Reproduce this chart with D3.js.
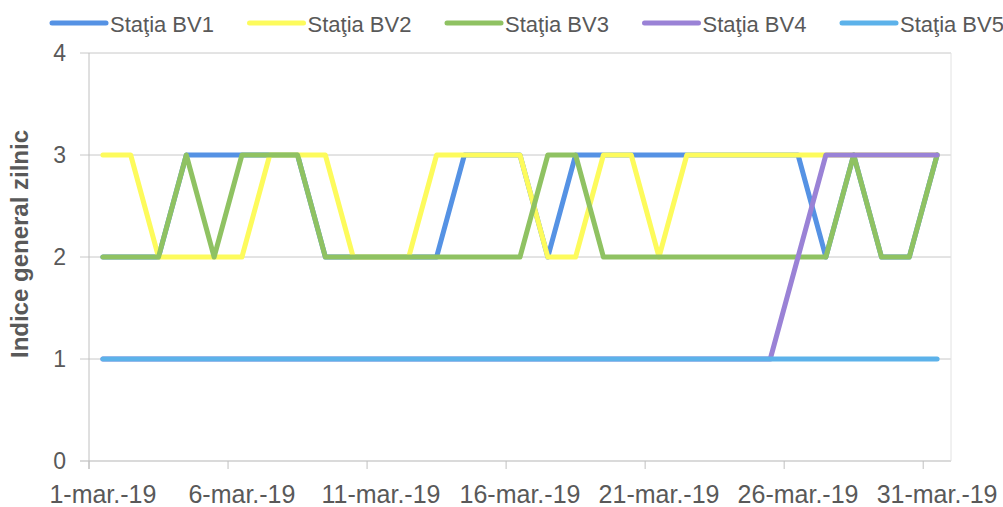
<!DOCTYPE html>
<html>
<head>
<meta charset="utf-8">
<script src="https://cdn.jsdelivr.net/npm/d3@7"></script>
<style>
  body { margin: 0; background: #fff; }
  text { font-family: 'Liberation Sans', Arial, sans-serif; fill: #595959; }
</style>
</head>
<body>
<svg width="1003" height="507"></svg>
<script>
/* global d3 */
var svg = d3.select('svg')

// days of March 2019
var days = d3.range(1, 32)
var seriesNames = ['Staţia BV1', 'Staţia BV2', 'Staţia BV3', 'Staţia BV4', 'Staţia BV5']
var seriesColors = ['#5592e4', '#fdfb5c', '#8fc262', '#9a82d6', '#5cb2ea']

var bv1 = [2, 2, 2, 3, 3, 3, 3, 3, 2, 2, 2, 2, 2, 3, 3, 3, 2, 3, 3, 3, 3, 3, 3, 3, 3, 3, 2, 3, 2, 2, 3]
var bv2 = [3, 3, 2, 2, 2, 2, 3, 3, 3, 2, 2, 2, 3, 3, 3, 3, 2, 2, 3, 3, 2, 3, 3, 3, 3, 3, 3, 3, 3, 3, 3]
var bv3 = [2, 2, 2, 3, 2, 3, 3, 3, 2, 2, 2, 2, 2, 2, 2, 2, 3, 3, 2, 2, 2, 2, 2, 2, 2, 2, 2, 3, 2, 2, 3]
var bv4 = [1, 1, 1, 1, 1, 1, 1, 1, 1, 1, 1, 1, 1, 1, 1, 1, 1, 1, 1, 1, 1, 1, 1, 1, 1, 2, 3, 3, 3, 3, 3]
var bv5 = [1, 1, 1, 1, 1, 1, 1, 1, 1, 1, 1, 1, 1, 1, 1, 1, 1, 1, 1, 1, 1, 1, 1, 1, 1, 1, 1, 1, 1, 1, 1]
var allSeries = [bv1, bv2, bv3, bv4, bv5]

var yTicks = [0, 1, 2, 3, 4]
var xTickDays = [1, 6, 11, 16, 21, 26, 31]
var xTickLabels = ['1-mar.-19', '6-mar.-19', '11-mar.-19', '16-mar.-19', '21-mar.-19', '26-mar.-19', '31-mar.-19']

var plotLeft = 89
var plotRight = 951
var plotTop = 53
var plotBottom = 461

var x = d3.scaleTime()
  .domain([new Date(2019, 2, 1), new Date(2019, 3, 1)])
  .range([plotLeft, plotRight])
var y = d3.scaleLinear().domain([0, 4]).range([plotBottom, plotTop])

// point sits in the middle of its day
function dayX (d) { return x(new Date(2019, 2, d, 12)) }

// gridlines
svg.append('g')
  .selectAll('line')
  .data(yTicks)
  .enter().append('line')
    .attr('x1', plotLeft - 9)
    .attr('x2', plotRight)
    .attr('y1', d => y(d))
    .attr('y2', d => y(d))
    .attr('stroke', d => d === 0 ? '#b5b5b5' : '#c8c8c8')
    .attr('stroke-width', 1)

// y axis line and right border
svg.append('line')
  .attr('x1', plotLeft).attr('x2', plotLeft)
  .attr('y1', plotTop).attr('y2', plotBottom + 8)
  .attr('stroke', '#c0c0c0')
svg.append('line')
  .attr('x1', plotRight).attr('x2', plotRight)
  .attr('y1', plotTop).attr('y2', plotBottom)
  .attr('stroke', '#e2e2e2')

// y tick labels
svg.append('g')
  .selectAll('text')
  .data(yTicks)
  .enter().append('text')
    .attr('x', 66)
    .attr('y', d => y(d))
    .attr('dy', '0.36em')
    .attr('text-anchor', 'end')
    .style('font-size', '23px')
    .text(d => d)

// x ticks at day boundaries, labels centred on the day
var xt = svg.append('g')
xt.selectAll('line')
  .data(xTickDays)
  .enter().append('line')
    .attr('x1', d => x(new Date(2019, 2, d)))
    .attr('x2', d => x(new Date(2019, 2, d)))
    .attr('y1', plotBottom)
    .attr('y2', plotBottom + 8)
    .attr('stroke', '#c0c0c0')
xt.selectAll('text')
  .data(xTickDays)
  .enter().append('text')
    .attr('x', d => dayX(d))
    .attr('y', 503)
    .attr('text-anchor', 'middle')
    .style('font-size', '25px')
    .text((d, i) => xTickLabels[i])

// y axis title
svg.append('text')
  .attr('transform', 'translate(28,244) rotate(-90)')
  .attr('text-anchor', 'middle')
  .style('font-size', '24px')
  .style('font-weight', 'bold')
  .text('Indice general zilnic')

// series lines
var line = d3.line()
  .x((d, i) => dayX(days[i]))
  .y(d => y(d))

svg.append('g')
  .selectAll('path')
  .data(allSeries)
  .enter().append('path')
    .attr('d', d => line(d))
    .attr('fill', 'none')
    .attr('stroke', (d, i) => seriesColors[i])
    .attr('stroke-width', 5)
    .attr('stroke-linejoin', 'round')
    .attr('stroke-linecap', 'round')

// legend
var legend = svg.append('g')
  .selectAll('g')
  .data(seriesNames)
  .enter().append('g')
    .attr('transform', (d, i) => 'translate(' + (52 + i * 197.5) + ',23)')
legend.append('line')
  .attr('x1', 0).attr('x2', 54)
  .attr('stroke', (d, i) => seriesColors[i])
  .attr('stroke-width', 5)
  .attr('stroke-linecap', 'round')
legend.append('text')
  .attr('x', 58)
  .attr('y', 9)
  .style('font-size', '22px')
  .text(d => d)
</script>
</body>
</html>
